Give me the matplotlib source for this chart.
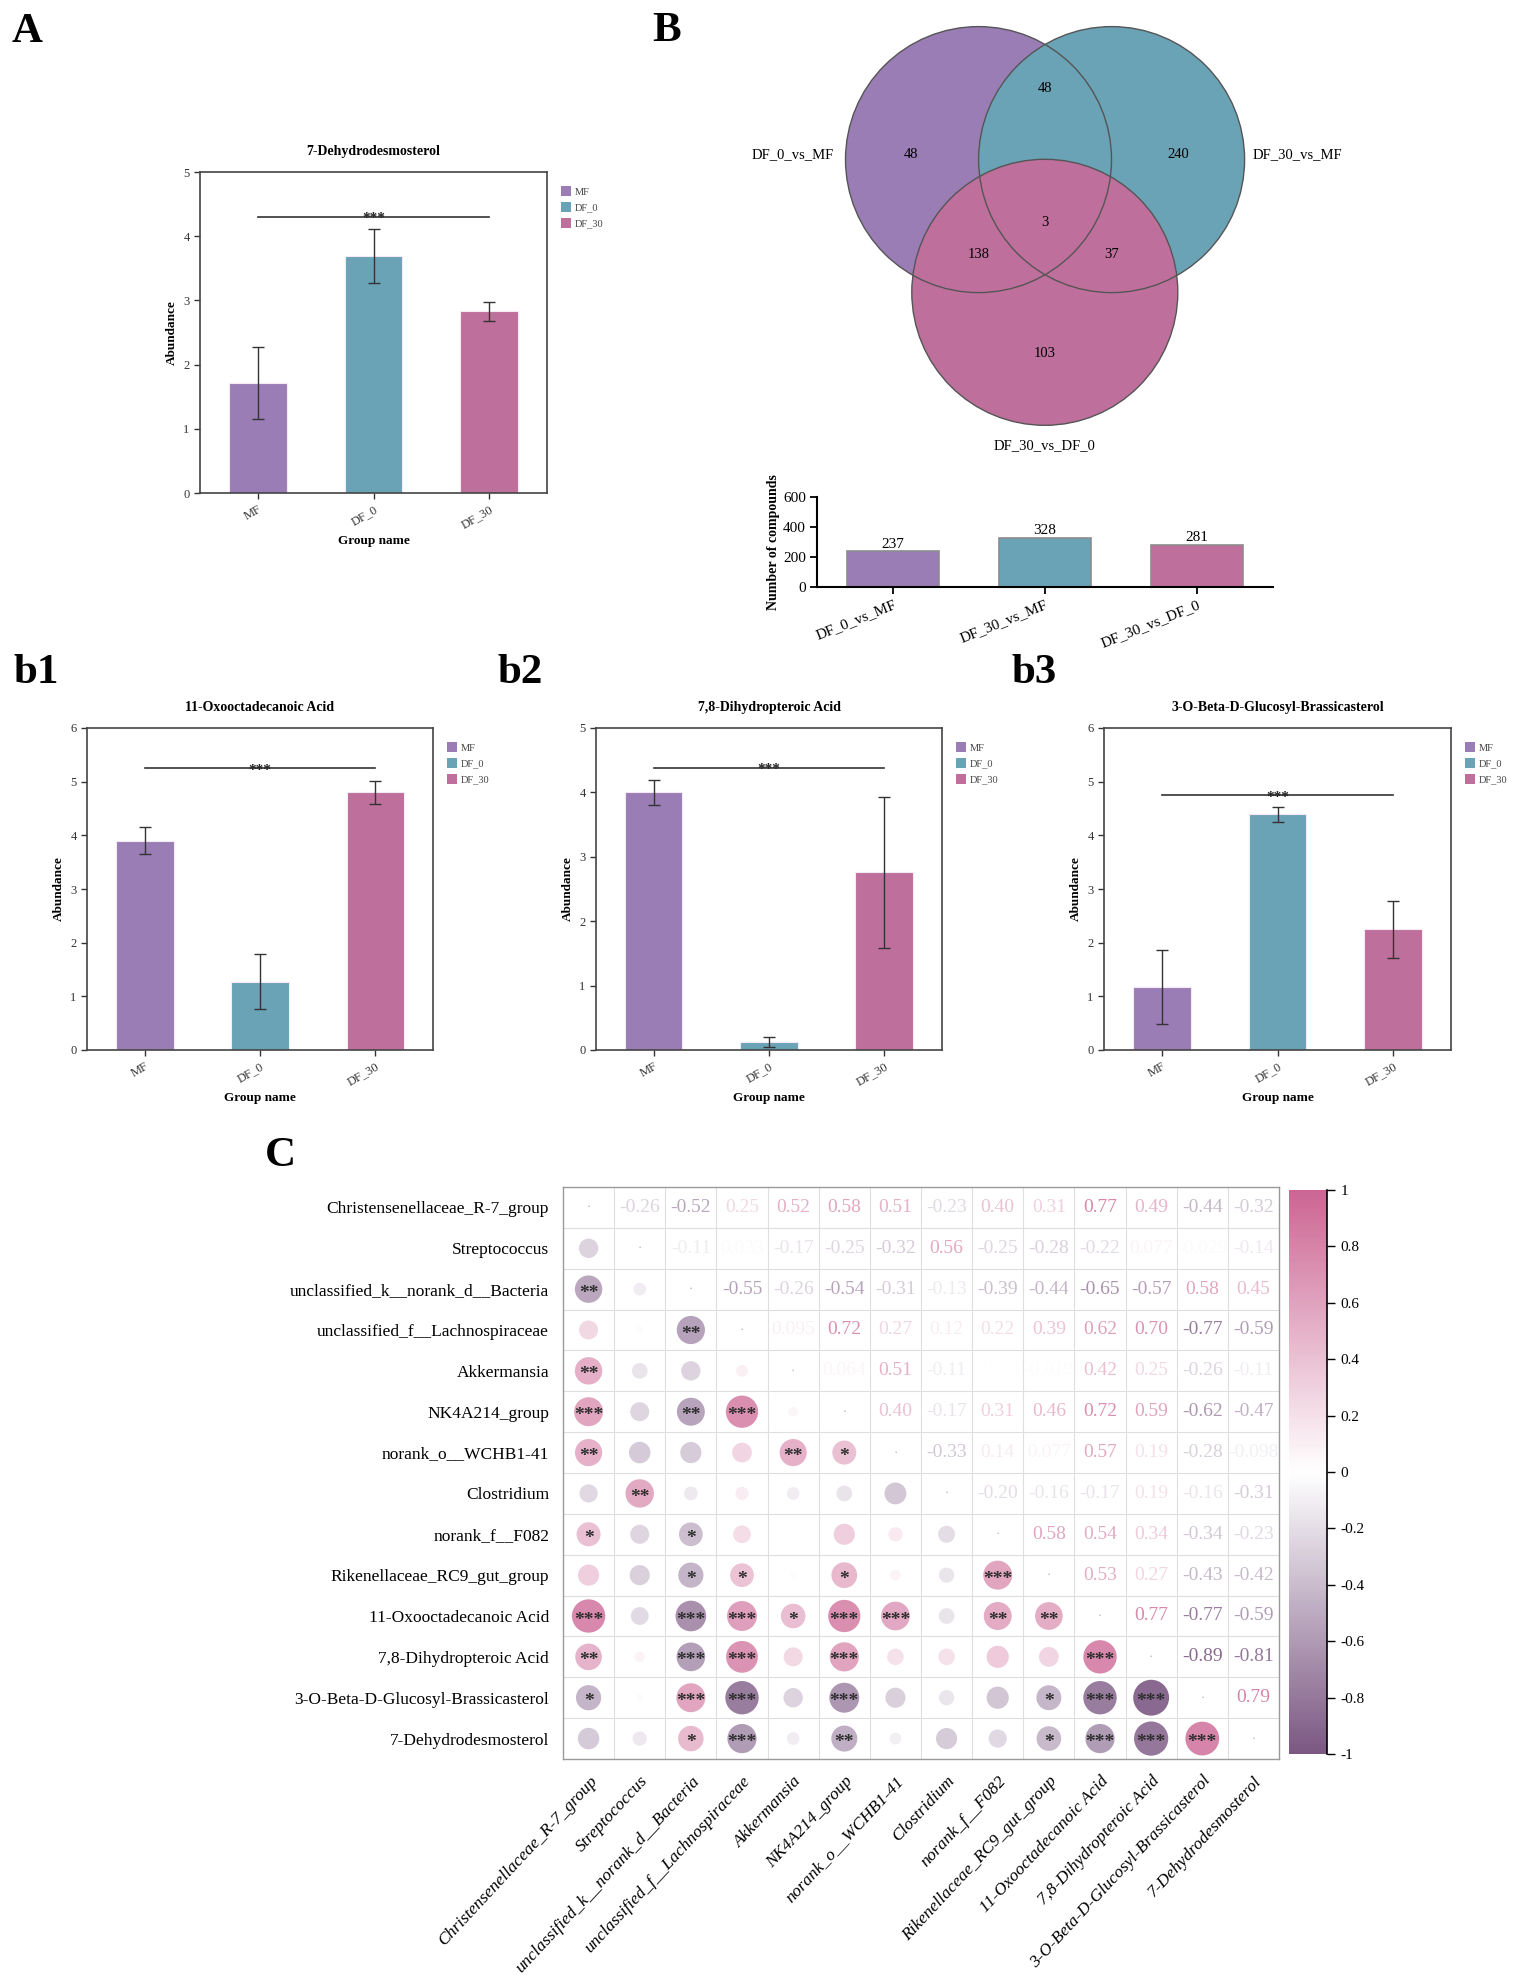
import numpy as np
import matplotlib
matplotlib.use('Agg')
import matplotlib.pyplot as plt
from matplotlib.patches import Circle, Ellipse, Patch
from matplotlib.colors import LinearSegmentedColormap, Normalize
from matplotlib.cm import ScalarMappable

plt.rcParams['font.family'] = 'Liberation Serif'

# ---------------- data ----------------
groups = ['MF', 'DF_0', 'DF_30']
group_colors = ['#9b7db6', '#6aa2b6', '#be6f9c']

dehydro_mean = [1.72, 3.69, 2.83]
dehydro_sd = [0.56, 0.42, 0.15]
oxo_mean = [3.90, 1.27, 4.80]
oxo_sd = [0.25, 0.51, 0.21]
dihydro_mean = [4.00, 0.12, 2.76]
dihydro_sd = [0.20, 0.08, 1.17]
brassi_mean = [1.18, 4.39, 2.25]
brassi_sd = [0.69, 0.14, 0.53]

venn_sets = ['DF_0_vs_MF', 'DF_30_vs_MF', 'DF_30_vs_DF_0']
venn_regions = ['A', 'B', 'C', 'AB', 'AC', 'BC', 'ABC']
venn_counts = [48, 240, 103, 48, 138, 37, 3]
set_sizes = [237, 328, 281]

taxa = ['Christensenellaceae_R-7_group', 'Streptococcus',
        'unclassified_k__norank_d__Bacteria', 'unclassified_f__Lachnospiraceae',
        'Akkermansia', 'NK4A214_group', 'norank_o__WCHB1-41', 'Clostridium',
        'norank_f__F082', 'Rikenellaceae_RC9_gut_group', '11-Oxooctadecanoic Acid',
        '7,8-Dihydropteroic Acid', '3-O-Beta-D-Glucosyl-Brassicasterol',
        '7-Dehydrodesmosterol']

corr_upper = [
    [-0.26, -0.52, 0.25, 0.52, 0.58, 0.51, -0.23, 0.40, 0.31, 0.77, 0.49, -0.44, -0.32],
    [-0.11, 0.033, -0.17, -0.25, -0.32, 0.56, -0.25, -0.28, -0.22, 0.077, -0.029, -0.14],
    [-0.55, -0.26, -0.54, -0.31, -0.13, -0.39, -0.44, -0.65, -0.57, 0.58, 0.45],
    [0.095, 0.72, 0.27, 0.12, 0.22, 0.39, 0.62, 0.70, -0.77, -0.59],
    [0.064, 0.51, -0.11, 0.004, -0.019, 0.42, 0.25, -0.26, -0.11],
    [0.40, -0.17, 0.31, 0.46, 0.72, 0.59, -0.62, -0.47],
    [-0.33, 0.14, 0.077, 0.57, 0.19, -0.28, -0.098],
    [-0.20, -0.16, -0.17, 0.19, -0.16, -0.31],
    [0.58, 0.54, 0.34, -0.34, -0.23],
    [0.53, 0.27, -0.43, -0.42],
    [0.77, -0.77, -0.59],
    [-0.89, -0.81],
    [0.79],
]

stars_lower = [
    [],
    [''],
    ['**', ''],
    ['', '', '**'],
    ['**', '', '', ''],
    ['***', '', '**', '***', ''],
    ['**', '', '', '', '**', '*'],
    ['', '**', '', '', '', '', ''],
    ['*', '', '*', '', '', '', '', ''],
    ['', '', '*', '*', '', '*', '', '', '***'],
    ['***', '', '***', '***', '*', '***', '***', '', '**', '**'],
    ['**', '', '***', '***', '', '***', '', '', '', '', '***'],
    ['*', '', '***', '***', '', '***', '', '', '', '*', '***', '***'],
    ['', '', '*', '***', '', '**', '', '', '', '*', '***', '***', '***'],
]

n = len(taxa)
corr = np.eye(n)
for i, row in enumerate(corr_upper):
    for k, v in enumerate(row):
        corr[i, i + 1 + k] = v
        corr[i + 1 + k, i] = v

# ---------------- figure ----------------
W, H = 1513, 1982
fig = plt.figure(figsize=(W / 100, H / 100), dpi=100)


def add_ax(l, t, r, b):
    return fig.add_axes([l / W, 1 - b / H, (r - l) / W, (b - t) / H])


def bar_panel(box, title, means, sds, ymax, sig_y):
    ax = add_ax(*box)
    x = np.arange(len(groups))
    ax.bar(x, means, width=0.5, color=group_colors, edgecolor='#f3eaf3',
           linewidth=0.8, zorder=2)
    ax.errorbar(x, means, yerr=sds, fmt='none', ecolor='#333333',
                elinewidth=1.0, capsize=4, capthick=1.0, zorder=3)
    ax.plot([0, 2], [sig_y, sig_y], color='#333333', lw=1.2, zorder=3)
    ax.annotate('***', (1, sig_y), xytext=(0, -4), textcoords='offset points',
                ha='center', va='baseline', fontsize=11, fontweight='bold',
                color='#222222')
    ax.set_xlim(-0.5, 2.5)
    ax.set_ylim(0, ymax)
    ax.set_yticks(range(0, ymax + 1))
    ax.set_xticks(x)
    ax.set_xticklabels(groups, rotation=30, ha='right', rotation_mode='anchor')
    ax.tick_params(labelsize=9, length=4, width=1, color='#333333',
                   labelcolor='#333333', direction='out')
    for s in ax.spines.values():
        s.set_color('#444444')
        s.set_linewidth(1.2)
    ax.set_title(title, fontsize=10, fontweight='bold', pad=12)
    ax.set_ylabel('Abundance', fontsize=9.5, fontweight='bold', labelpad=4)
    ax.set_xlabel('Group name', fontsize=9.5, fontweight='bold', labelpad=3)
    handles = [Patch(facecolor=c, edgecolor='none') for c in group_colors]
    ax.legend(handles, groups, loc='upper left', bbox_to_anchor=(1.04, 0.955),
              frameon=False, fontsize=7.5, handlelength=1.0, handleheight=1.0,
              handletextpad=0.3, labelspacing=0.55, borderaxespad=0, borderpad=0,
              labelcolor='#444444')
    return ax


# panel A and b1-b3
bar_panel((200, 172, 547, 493), '7-Dehydrodesmosterol', dehydro_mean, dehydro_sd, 5, 4.3)
bar_panel((87, 728, 433, 1050), '11-Oxooctadecanoic Acid', oxo_mean, oxo_sd, 6, 5.25)
bar_panel((596, 728, 942, 1050), '7,8-Dihydropteroic Acid', dihydro_mean, dihydro_sd, 5, 4.38)
bar_panel((1104, 728, 1451, 1050), '3-O-Beta-D-Glucosyl-Brassicasterol', brassi_mean, brassi_sd, 6, 4.75)

# panel B: set sizes bar chart
axb = add_ax(817, 497, 1273, 587)
xb = np.arange(len(venn_sets))
axb.bar(xb, set_sizes, width=0.6, color=group_colors, edgecolor='#8c8c8c', linewidth=1.2)
for xi, v in zip(xb, set_sizes):
    axb.text(xi, v + 4, str(v), ha='center', va='bottom', fontsize=11)
axb.set_xlim(-0.5, 2.5)
axb.set_ylim(0, 600)
axb.set_yticks([0, 200, 400, 600])
axb.set_xticks(xb)
axb.set_xticklabels(venn_sets, rotation=22, ha='right', rotation_mode='anchor')
axb.tick_params(labelsize=11, length=5, width=1.3, direction='out', pad=3)
axb.spines['top'].set_visible(False)
axb.spines['right'].set_visible(False)
axb.spines['left'].set_linewidth(1.5)
axb.spines['bottom'].set_linewidth(1.5)
axb.set_ylabel('Number of compounds', fontsize=10, fontweight='bold', labelpad=2)

# panel C: correlation matrix
cmap = LinearSegmentedColormap.from_list('pp', ['#7b5782', '#ffffff', '#cc6593'])
norm = Normalize(-1, 1)
c_l, c_t, c_r, c_b = 563, 1187, 1279, 1759
axc = add_ax(c_l, c_t, c_r, c_b)
axc.set_xlim(-0.5, n - 0.5)
axc.set_ylim(n - 0.5, -0.5)
for k in range(1, n):
    axc.axhline(k - 0.5, color='#dedede', lw=0.8, zorder=0)
    axc.axvline(k - 0.5, color='#dedede', lw=0.8, zorder=0)
cell_w = (c_r - c_l) / n
cell_h = (c_b - c_t) / n


def fmt(v):
    return f'{v:.2g}' if abs(v) < 0.1 else f'{v:.2f}'


for i in range(n):
    for j in range(n):
        r = corr[i, j]
        if i == j:
            axc.text(j, i, '·', ha='center', va='center', fontsize=9, color='#aaaaaa')
        elif j > i:
            axc.text(j, i, fmt(r), ha='center', va='center', fontsize=14,
                     color=cmap(norm(r)))
        else:
            d = 38 * np.sqrt(abs(r))
            axc.add_patch(Ellipse((j, i), d / cell_w, d / cell_h,
                                  facecolor=cmap(norm(r)), edgecolor='none', zorder=2))
            s = stars_lower[i][j]
            if s:
                axc.text(j, i + 0.1, s, ha='center', va='center', fontsize=14,
                         fontweight='bold', color='#2e2e2e', zorder=3)

axc.set_yticks(range(n))
axc.set_yticklabels(taxa, fontsize=12.5)
axc.set_xticks(range(n))
axc.set_xticklabels(taxa, fontsize=12.5, rotation=47, ha='right',
                    rotation_mode='anchor', fontstyle='italic')
axc.tick_params(length=0, pad=10)
for s in axc.spines.values():
    s.set_color('#999999')
    s.set_linewidth(1.0)

cax = add_ax(1289, 1190, 1327, 1754)
cticks = np.round(np.arange(-1, 1.01, 0.2), 1) + 0.0
cb = fig.colorbar(ScalarMappable(norm=norm, cmap=cmap), cax=cax, ticks=cticks)
cb.outline.set_visible(False)
cb.set_ticklabels([f'{t:g}' for t in cticks])
cax.plot([1, 1], [0, 1], transform=cax.transAxes, color='black', lw=1.2, clip_on=False)
cax.tick_params(labelsize=11, length=6, width=1.0, direction='out')

# overlay in pixel coordinates: Venn diagram and panel letters
axv = fig.add_axes([0, 0, 1, 1])
axv.set_xlim(0, W)
axv.set_ylim(H, 0)
axv.axis('off')
axv.patch.set_alpha(0)

radius = 133
centers = [(978.5, 159.6), (1111.6, 159.6), (1044.8, 292.3)]
for (cx, cy), col in zip(centers, group_colors):
    axv.add_patch(Circle((cx, cy), radius, facecolor=col, edgecolor='none'))
for cx, cy in centers:
    axv.add_patch(Circle((cx, cy), radius, facecolor='none', edgecolor='#555555', lw=1.0))

(ax_, ay_), (bx_, by_), (cx_, cy_) = centers
region_pos = {
    'A': (ax_ - 67, ay_ - 5), 'B': (bx_ + 67, by_ - 5), 'C': (cx_, cy_ + 61),
    'AB': ((ax_ + bx_) / 2, ay_ - 71), 'AC': (ax_, cy_ - 38), 'BC': (bx_, cy_ - 38),
    'ABC': (cx_, cy_ - 70),
}
for reg, cnt in zip(venn_regions, venn_counts):
    px, py = region_pos[reg]
    axv.text(px, py, str(cnt), ha='center', va='center', fontsize=10.5)
axv.text(ax_ - radius - 12, ay_ - 5, venn_sets[0], ha='right', va='center', fontsize=10.5)
axv.text(bx_ + radius + 8, by_ - 5, venn_sets[1], ha='left', va='center', fontsize=10.5)
axv.text(cx_, cy_ + radius + 20, venn_sets[2], ha='center', va='center', fontsize=10.5)

letters = [('A', 12, 42), ('B', 652, 41), ('b1', 13, 683), ('b2', 497, 683),
           ('b3', 1012, 683), ('C', 265, 1166)]
for lab, lx, ly in letters:
    axv.text(lx, ly, lab, ha='left', va='baseline', fontsize=31, fontweight='bold')

fig.savefig('out.png', dpi=100)
